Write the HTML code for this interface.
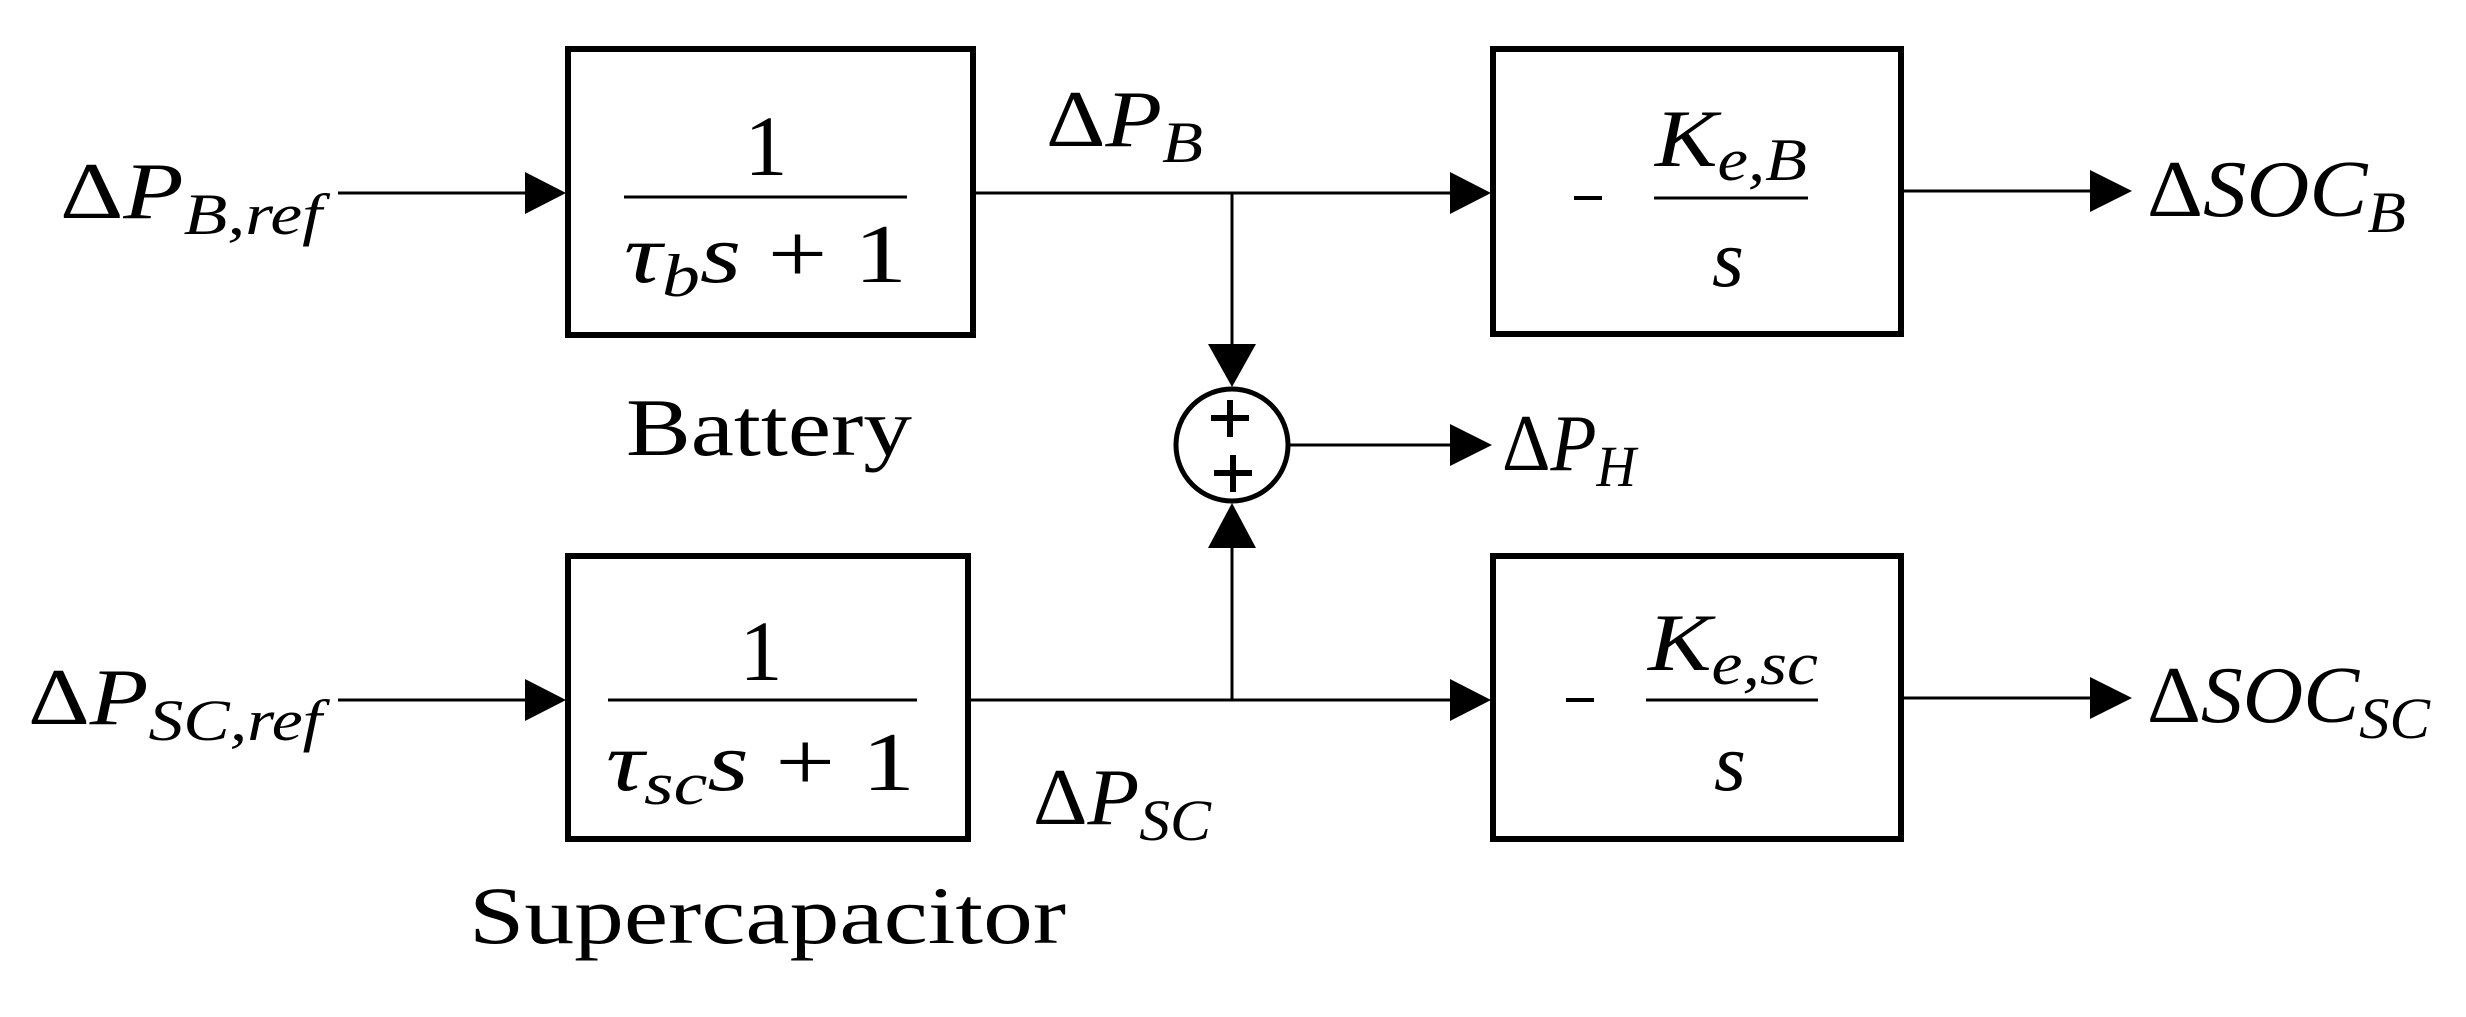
<!DOCTYPE html>
<html><head><meta charset="utf-8"><style>
html,body{margin:0;padding:0;background:#fff;}
svg{display:block;}
text{font-family:"Liberation Serif",serif;fill:#000;}
.m{font-style:italic;}
.u{font-style:normal;}
</style></head><body>
<svg width="2466" height="1017" viewBox="0 0 2466 1017" xmlns="http://www.w3.org/2000/svg">
<g fill="none" stroke="#000">
<rect x="568" y="49" width="405" height="286" stroke-width="6"/>
<rect x="568" y="556" width="400" height="283" stroke-width="6"/>
<rect x="1493" y="49" width="408" height="285" stroke-width="6"/>
<rect x="1493" y="556" width="408" height="283" stroke-width="6"/>
<g stroke-width="3">
<line x1="338" y1="193" x2="540" y2="193"/>
<line x1="338" y1="700" x2="540" y2="700"/>
<line x1="975" y1="193" x2="1465" y2="193"/>
<line x1="970" y1="700" x2="1465" y2="700"/>
<line x1="1232" y1="193" x2="1232" y2="350"/>
<line x1="1232" y1="700" x2="1232" y2="540"/>
<line x1="1289" y1="445" x2="1460" y2="445"/>
<line x1="1904" y1="191" x2="2105" y2="191"/>
<line x1="1904" y1="698" x2="2105" y2="698"/>
<line x1="624" y1="197" x2="907" y2="197"/>
<line x1="608" y1="700" x2="917" y2="700"/>
<line x1="1654" y1="198" x2="1808" y2="198"/>
<line x1="1646" y1="700" x2="1818" y2="700"/>
</g>
<g stroke-width="4">
<line x1="1574" y1="198" x2="1602" y2="198"/>
<line x1="1566" y1="700" x2="1594" y2="700"/>
</g>
<circle cx="1232" cy="445" r="56" stroke-width="5"/>
<g stroke-width="6">
<line x1="1211" y1="418" x2="1249" y2="418"/><line x1="1230" y1="400" x2="1230" y2="437"/>
<line x1="1214" y1="473" x2="1252" y2="473"/><line x1="1233" y1="455" x2="1233" y2="492"/>
</g>
</g>
<g fill="#000">
<polygon points="566,193 525,172 525,214"/>
<polygon points="566,700 525,679 525,721"/>
<polygon points="1491,193 1450,172 1450,214"/>
<polygon points="1491,700 1450,679 1450,721"/>
<polygon points="1232,387 1208,344 1256,344"/>
<polygon points="1232,503 1208,548 1256,548"/>
<polygon points="1492,445 1450,424 1450,466"/>
<polygon points="2132,191 2090,170 2090,212"/>
<polygon points="2132,698 2090,677 2090,719"/>
</g>
<text x="60" y="218" font-size="80" class="m" textLength="262" lengthAdjust="spacingAndGlyphs"><tspan class="u">Δ</tspan>P<tspan font-size="58" dy="16">B,ref</tspan></text>
<text x="28" y="724" font-size="80" class="m" textLength="294" lengthAdjust="spacingAndGlyphs"><tspan class="u">Δ</tspan>P<tspan font-size="58" dy="16">SC,ref</tspan></text>
<text x="1046" y="146" font-size="80" class="m" textLength="157" lengthAdjust="spacingAndGlyphs"><tspan class="u">Δ</tspan>P<tspan font-size="58" dy="16">B</tspan></text>
<text x="1033" y="824" font-size="80" class="m" textLength="178" lengthAdjust="spacingAndGlyphs"><tspan class="u">Δ</tspan>P<tspan font-size="58" dy="16">SC</tspan></text>
<text x="1502" y="470" font-size="80" class="m" textLength="134" lengthAdjust="spacingAndGlyphs"><tspan class="u">Δ</tspan>P<tspan font-size="58" dy="16">H</tspan></text>
<text x="2147" y="216" font-size="80" class="m" textLength="259" lengthAdjust="spacingAndGlyphs"><tspan class="u">Δ</tspan>SOC<tspan font-size="58" dy="16">B</tspan></text>
<text x="2147" y="722" font-size="80" class="m" textLength="283" lengthAdjust="spacingAndGlyphs"><tspan class="u">Δ</tspan>SOC<tspan font-size="58" dy="16">SC</tspan></text>
<text x="626" y="455" font-size="82" textLength="286" lengthAdjust="spacingAndGlyphs">Battery</text>
<text x="469" y="943" font-size="82" textLength="597" lengthAdjust="spacingAndGlyphs">Supercapacitor</text>
<text x="766" y="175" font-size="86" text-anchor="middle">1</text>
<text x="624" y="282" font-size="84" textLength="283" lengthAdjust="spacingAndGlyphs"><tspan class="m">τ</tspan><tspan class="m" font-size="60" dy="14">b</tspan><tspan class="m" dy="-14">s</tspan> + 1</text>
<text x="761" y="680" font-size="86" text-anchor="middle">1</text>
<text x="606" y="790" font-size="84" textLength="309" lengthAdjust="spacingAndGlyphs"><tspan class="m">τ</tspan><tspan class="m" font-size="60" dy="14">sc</tspan><tspan class="m" dy="-14">s</tspan> + 1</text>
<text x="1655" y="166" font-size="82" class="m" textLength="152" lengthAdjust="spacingAndGlyphs">K<tspan font-size="60" dy="14">e,B</tspan></text>
<text x="1712" y="286" font-size="82" class="m">s</text>
<text x="1648" y="670" font-size="82" class="m" textLength="170" lengthAdjust="spacingAndGlyphs">K<tspan font-size="60" dy="14">e,sc</tspan></text>
<text x="1714" y="790" font-size="82" class="m">s</text>
</svg>
</body></html>
